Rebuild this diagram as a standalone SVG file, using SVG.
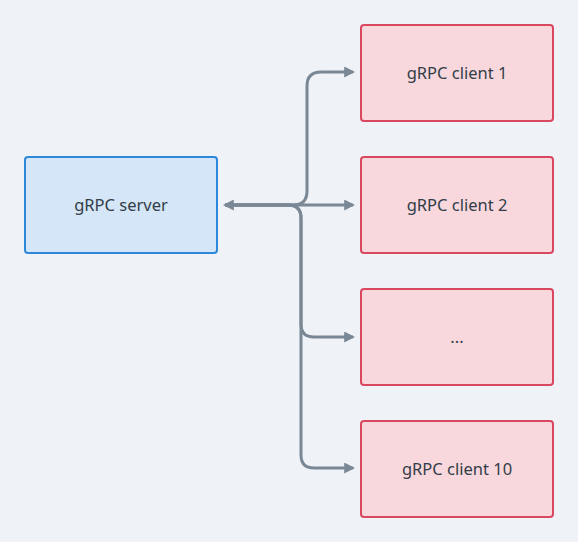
<svg xmlns="http://www.w3.org/2000/svg" width="578" height="542" viewBox="0 0 578 542">
<style>
.srv{fill:#d4e6f7;stroke:#2d88d9;stroke-width:2}
.cli{fill:#f8d8dd;stroke:#d9485f;stroke-width:2}
.lbl{font-family:"Noto Sans","DejaVu Sans",sans-serif;font-size:16.5px;fill:#333d48;text-anchor:middle;dominant-baseline:central}
.con{fill:none;stroke:#7a8896;stroke-width:3}
</style>
<defs>
<marker id="ah" viewBox="0 0 10 10" refX="8" refY="5" markerWidth="11" markerHeight="11" markerUnits="userSpaceOnUse" orient="auto-start-reverse">
<path d="M0 0 L10 5 L0 10 Z" fill="#7a8896"/>
</marker>
</defs>
<rect width="578" height="542" fill="#eff3f7"/>
<g id="connectors">
<path class="con" d="M225 205 H293 Q307 205 307 191 V86 Q307 72 321 72 H353" marker-start="url(#ah)" marker-end="url(#ah)"/>
<path class="con" d="M225 205 H353" marker-end="url(#ah)"/>
<path class="con" d="M225 205 H288 Q301 205 301 218 V324 Q301 337 314 337 H353" marker-end="url(#ah)"/>
<path class="con" d="M225 205 H288 Q301 205 301 218 V455 Q301 468 314 468 H353" marker-end="url(#ah)"/>
</g>
<g id="server"><rect class="srv" x="25" y="157" width="192" height="96" rx="3"/><text class="lbl" x="121" y="204">gRPC server</text></g>
<g id="client1"><rect class="cli" x="361" y="25" width="192" height="96" rx="3"/><text class="lbl" x="457" y="72">gRPC client 1</text></g>
<g id="client2"><rect class="cli" x="361" y="157" width="192" height="96" rx="3"/><text class="lbl" x="457" y="204">gRPC client 2</text></g>
<g id="client3"><rect class="cli" x="361" y="289" width="192" height="96" rx="3"/><text class="lbl" x="457" y="336">...</text></g>
<g id="client4"><rect class="cli" x="361" y="421" width="192" height="96" rx="3"/><text class="lbl" x="457" y="468">gRPC client 10</text></g>
</svg>
